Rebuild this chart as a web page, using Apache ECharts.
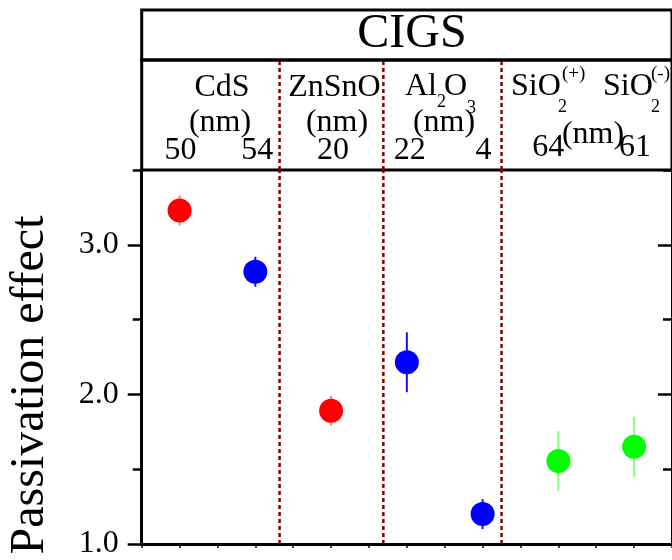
<!DOCTYPE html>
<html><head><meta charset="utf-8">
<script src="https://cdn.jsdelivr.net/npm/echarts@6/dist/echarts.min.js"></script>
<style>html,body{margin:0;padding:0;background:#fff}#c{width:672px;height:560px}</style>
</head><body><div id="c"></div>
<script>
// ---------------- data ----------------
const categories = ['CdS 50 nm','CdS 54 nm','ZnSnO 20 nm','Al2O3 22 nm','Al2O3 4 nm','SiO2(+) 64 nm','SiO2(-) 61 nm'];
const xPositions = [1, 2, 3, 4, 5, 6, 7];
const passivation = [3.23, 2.82, 1.89, 2.215, 1.20, 1.555, 1.65];
const errorBars = [0.10, 0.10, 0.10, 0.20, 0.10, 0.20, 0.20];
const pointGroup = ['red', 'blue', 'red', 'blue', 'blue', 'green', 'green'];
const thicknessLabels = ['50', '54', '20', '22', '4', '64', '61'];
const dividers = [2.32, 3.69, 5.25];
const yTickValues = [1.0, 2.0, 3.0];
const headerTitle = 'CIGS';
const yAxisTitle = 'Passivation effect';

// ---------------- styles ----------------
const FONT = 'Liberation Serif';
const groupStyle = {
  red:   { fill: '#ff0000', bar: '#ff8080' },
  blue:  { fill: '#0000ff', bar: '#1010ff' },
  green: { fill: '#00ff00', bar: '#80ff80' }
};
const GL = 141.7, GR = -7.3;
const X_MIN = 0.5, X_MAX = 7.5;

const chart = echarts.init(document.getElementById('c'), null, { renderer: 'canvas' });

function groupData(g) {
  const out = [];
  xPositions.forEach((x, i) => { if (pointGroup[i] === g) out.push([x, passivation[i]]); });
  return out;
}
const errData = xPositions.map((x, i) => [x, passivation[i] - errorBars[i], passivation[i] + errorBars[i]]);

function dividerSeries(xIdx, yIdx, yLo, yHi) {
  return {
    type: 'custom', xAxisIndex: xIdx, yAxisIndex: yIdx, z: 1, silent: true,
    data: dividers.map(d => [d]),
    renderItem: (params, api) => {
      const p1 = api.coord([api.value(0), yLo]);
      const p2 = api.coord([api.value(0), yHi]);
      return { type: 'line', shape: { x1: p1[0], y1: p1[1], x2: p2[0], y2: p2[1] },
        style: { stroke: '#8b0000', lineWidth: 2.5, lineDash: [4, 3] } };
    }
  };
}

const hiddenX = (gi) => ({ type: 'value', gridIndex: gi, min: X_MIN, max: X_MAX, show: false });
const hiddenY = (gi) => ({ type: 'value', gridIndex: gi, min: 0, max: 1, show: false });

const option = {
  animation: false,
  backgroundColor: '#fff',
  grid: [
    { left: GL, right: GR, top: 170, bottom: 13.3 },
    { left: GL, right: GR, top: 60, height: 110, show: true, borderColor: '#000', borderWidth: 3, backgroundColor: 'transparent' },
    { left: GL, right: GR, top: 10, height: 50, show: true, borderColor: '#000', borderWidth: 3, backgroundColor: 'transparent' }
  ],
  xAxis: [
    { type: 'value', gridIndex: 0, min: X_MIN, max: X_MAX, interval: 0.5, position: 'bottom',
      axisLine: { show: true, lineStyle: { color: '#000', width: 3 } },
      axisTick: { show: true, length: 4, lineStyle: { color: '#000', width: 1.5 } },
      axisLabel: { show: false }, splitLine: { show: false } },
    hiddenX(1), hiddenX(2)
  ],
  yAxis: [
    { type: 'value', gridIndex: 0, min: 1, max: 3.5, interval: 0.5, position: 'left',
      axisLine: { show: true, lineStyle: { color: '#000', width: 3 } },
      axisTick: { show: true, length: 9, lineStyle: { color: '#000', width: 2.5 } },
      axisLabel: { show: true, customValues: yTickValues, formatter: v => Number(v).toFixed(1),
        fontFamily: FONT, fontSize: 32, color: '#000', margin: 23 },
      splitLine: { show: false } },
    { type: 'value', gridIndex: 0, min: 1, max: 3.5, position: 'left',
      axisLine: { show: false },
      axisTick: { show: true, customValues: yTickValues, length: 14, lineStyle: { color: '#000', width: 2.5 } },
      axisLabel: { show: false }, splitLine: { show: false } },
    { type: 'value', gridIndex: 0, min: 1, max: 3.5, interval: 0.5, position: 'right',
      axisLine: { show: true, lineStyle: { color: '#000', width: 3 } },
      axisTick: { show: true, inside: true, length: 9, lineStyle: { color: '#000', width: 2.5 } },
      axisLabel: { show: false }, splitLine: { show: false } },
    { type: 'value', gridIndex: 0, min: 1, max: 3.5, position: 'right',
      axisLine: { show: false },
      axisTick: { show: true, inside: true, customValues: yTickValues, length: 14, lineStyle: { color: '#000', width: 2.5 } },
      axisLabel: { show: false }, splitLine: { show: false } },
    hiddenY(1), hiddenY(2)
  ],
  series: [
    dividerSeries(0, 0, 1, 3.5),
    dividerSeries(1, 4, 0, 1),
    {
      type: 'custom', name: 'error', xAxisIndex: 0, yAxisIndex: 0, z: 2, silent: true,
      data: errData,
      renderItem: (params, api) => {
        const x = api.value(0);
        const p1 = api.coord([x, api.value(1)]);
        const p2 = api.coord([x, api.value(2)]);
        const g = pointGroup[params.dataIndex];
        return { type: 'line', shape: { x1: p1[0], y1: p1[1], x2: p2[0], y2: p2[1] },
          style: { stroke: groupStyle[g].bar, lineWidth: 2 } };
      }
    },
    ...['red', 'blue', 'green'].map(g => ({
      type: 'scatter', name: g, xAxisIndex: 0, yAxisIndex: 0, z: 3,
      symbol: 'circle', symbolSize: 24,
      itemStyle: { color: groupStyle[g].fill, opacity: 1 },
      data: groupData(g)
    }))
  ]
};
chart.setOption(option);

// ---------------- header texts ----------------
function txt(text, x, y, size, align) {
  return { type: 'text', x: x, y: y, silent: true, z: 10,
    style: { text: text, fontFamily: FONT, fontSize: size, fill: '#000',
      align: align || 'center', verticalAlign: 'middle' } };
}
const thickOffsets = [1, 2, 2, 3, 1, -10, 1];
const thickY = [151, 151, 151, 151, 151, 148, 148];
const graphics = [
  txt(headerTitle, 412, 34, 48),
  // CdS
  txt('CdS', 222, 87.5, 32),
  txt('(nm)', 220, 123, 32),
  // ZnSnO
  txt('ZnSnO', 334.5, 87.5, 32),
  txt('(nm)', 337, 123, 32),
  // Al2O3
  txt('Al', 437, 87, 32, 'right'),
  txt('2', 437, 102, 18, 'left'),
  txt('O', 444, 87, 32, 'left'),
  txt('3', 467, 108, 18, 'left'),
  txt('(nm)', 444, 123, 32),
  // SiO2 (+)
  txt('SiO', 511, 87, 32, 'left'),
  txt('2', 558, 107, 18, 'left'),
  txt('(+)', 562, 74, 19, 'left'),
  // SiO2 (-)
  txt('SiO', 603, 87, 32, 'left'),
  txt('2', 651, 107, 18, 'left'),
  txt('(-)', 651, 74, 19, 'left'),
  txt('(nm)', 593, 135, 32),
  // y axis title
  { type: 'text', x: 30, y: 385, rotation: Math.PI / 2, silent: true, z: 10,
    style: { text: yAxisTitle, fontFamily: FONT, fontSize: 48, fill: '#000', align: 'center', verticalAlign: 'middle' } }
];
thicknessLabels.forEach((t, i) => {
  const px = chart.convertToPixel({ xAxisIndex: 0 }, xPositions[i]);
  graphics.push(txt(t, px + thickOffsets[i], thickY[i], 32));
});
chart.setOption({ graphic: graphics });
</script>
</body></html>
